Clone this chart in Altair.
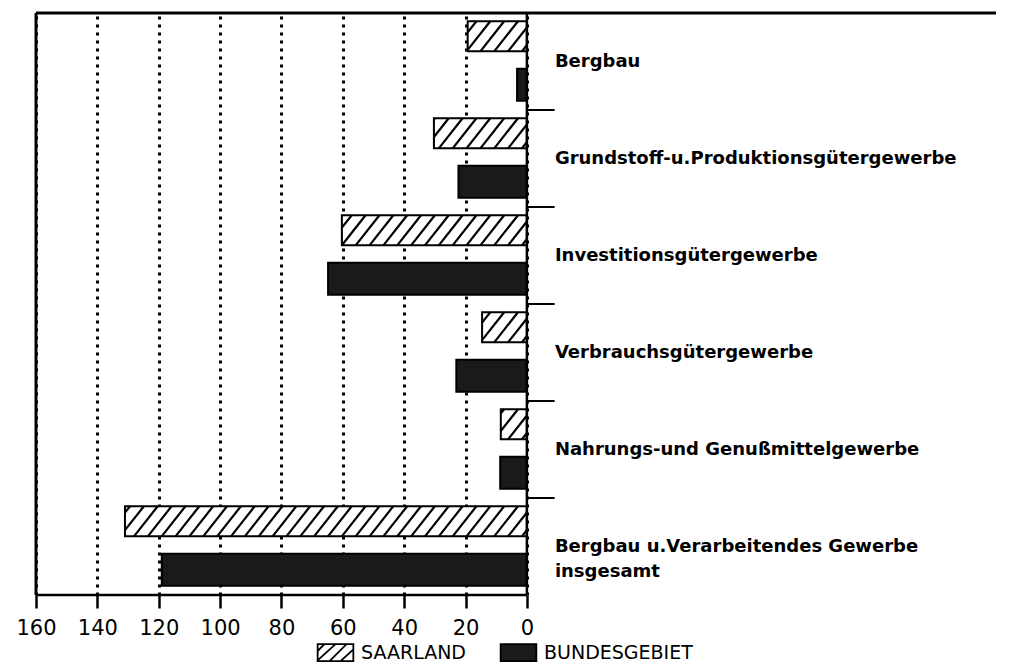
import altair as alt
import pandas as pd

categories = [
    "Bergbau",
    "Grundstoff-u.Produktionsgütergewerbe",
    "Investitionsgütergewerbe",
    "Verbrauchsgütergewerbe",
    "Nahrungs-und Genußmittelgewerbe",
    "Bergbau u.Verarbeitendes Gewerbe\ninsgesamt",
]
saarland = [19.3, 30.3, 60.3, 14.6, 8.5, 131.0]
bundesgebiet = [3.2, 22.3, 64.8, 23.0, 8.7, 119.0]
series = ["SAARLAND", "BUNDESGEBIET"]
tick_values = [0, 20, 40, 60, 80, 100, 120, 140, 160]

# ---- layout constants ----
W, H = 970, 582
K = 3.1                       # px per unit on x
XMAX = 160
XMIN = -(W / K - XMAX)        # domain extends to the right of zero (labels area)
NCAT = len(categories)
PY = H / NCAT                 # px per category band
SAAR_Y = (0.085, 0.395)
BUND_Y = (0.575, 0.905)
FONT = "DejaVu Sans"

xs = alt.Scale(domain=[XMAX, XMIN], nice=False, zero=False)
ys = alt.Scale(domain=[0, NCAT], reverse=True, nice=False, zero=False)

rows = []
for i, c in enumerate(categories):
    rows.append(dict(cat=c, idx=i, series=series[0], value=saarland[i],
                     y0=i + SAAR_Y[0], y1=i + SAAR_Y[1]))
    rows.append(dict(cat=c, idx=i, series=series[1], value=bundesgebiet[i],
                     y0=i + BUND_Y[0], y1=i + BUND_Y[1]))
bars_df = pd.DataFrame(rows)

# hatch lines for the Saarland bars (derived from the values)
SPACING, RUN = 14.0, 24.0
hatch = []
for i, v in enumerate(saarland):
    xl, xr = -v * K, 0.0
    pt, pb = (i + SAAR_Y[0]) * PY, (i + SAAR_Y[1]) * PY
    h = pb - pt
    c = xr - 5
    cs = []
    while c > xl - RUN:
        cs.append(c)
        c -= SPACING
    for c in cs:
        t0 = max(0.0, (xl - c) / RUN)
        t1 = min(1.0, (xr - c) / RUN)
        if t1 - t0 < 0.02:
            continue
        xa, ya = c + RUN * t0, pb - h * t0
        xb, yb = c + RUN * t1, pb - h * t1
        hatch.append(dict(x=-xa / K, y=ya / PY, x2=-xb / K, y2=yb / PY))
hatch_df = pd.DataFrame(hatch)

lab_df = pd.DataFrame({"cat": categories, "ym": [i + 0.5 for i in range(NCAT)]})
bound_df = pd.DataFrame({"yb": list(range(1, NCAT))})

xaxis = alt.Axis(values=tick_values, grid=True, gridColor="black", gridDash=[3, 5],
                 gridWidth=3, gridOpacity=1, domain=False, ticks=True, tickSize=13,
                 tickWidth=2.5, tickColor="black", labelFont=FONT, labelFontSize=21,
                 labelFontWeight="normal", labelColor="black", labelPadding=9,
                 title=None, labelFlush=False)

hatch_path = ("M-2.1,-1H2.1V1H-2.1Z "
              "M-2.1,-0.2L-1.3,-1 M-2.1,0.9L0,-1 M-0.7,1L1.3,-1 M0.6,1L2.1,-0.4")
solid_path = "M-2.1,-1H2.1V1H-2.1Z"
leg = alt.Legend(title=None, orient="none", legendX=295, legendY=630,
                 direction="horizontal", symbolSize=289, labelOffset=16,
                 labelFont=FONT, labelFontSize=19, labelFontWeight="normal",
                 labelColor="black", columnPadding=30, labelLimit=0,
                 symbolOpacity=1, symbolStrokeColor="black", symbolStrokeWidth=1.8)
fill_scale = alt.Scale(domain=series, range=["white", "#1a1a1a"])
stroke_scale = alt.Scale(domain=series, range=["black", "black"])
shape_scale = alt.Scale(domain=series, range=[hatch_path, solid_path])

base = alt.Chart(bars_df)

grid = base.mark_bar(opacity=0).encode(
    x=alt.X("value:Q", scale=xs, axis=xaxis),
    y=alt.Y("y0:Q", scale=ys, axis=None),
)

bars = base.mark_bar(strokeWidth=2, opacity=1).encode(
    x=alt.X("value:Q", scale=xs),
    x2=alt.datum(0),
    y=alt.Y("y0:Q", scale=ys),
    y2="y1:Q",
    fill=alt.Fill("series:N", scale=fill_scale, legend=leg),
    stroke=alt.Stroke("series:N", scale=stroke_scale, legend=leg),
)

hatch_l = alt.Chart(hatch_df).mark_rule(color="black", strokeWidth=2.2).encode(
    x=alt.X("x:Q", scale=xs), y=alt.Y("y:Q", scale=ys), x2="x2:Q", y2="y2:Q"
)

frame_top = alt.Chart().mark_rule(color="black", strokeWidth=3).encode(
    x=alt.datum(XMAX, scale=xs), x2=alt.datum(XMIN), y=alt.datum(0, scale=ys))
frame_left = alt.Chart().mark_rule(color="black", strokeWidth=3).encode(
    x=alt.datum(XMAX, scale=xs), y=alt.datum(0, scale=ys), y2=alt.datum(NCAT))
frame_zero = alt.Chart().mark_rule(color="black", strokeWidth=2.5).encode(
    x=alt.datum(0, scale=xs), y=alt.datum(0, scale=ys), y2=alt.datum(NCAT))
frame_bottom = alt.Chart().mark_rule(color="black", strokeWidth=2.5).encode(
    x=alt.datum(XMAX, scale=xs), x2=alt.datum(0), y=alt.datum(NCAT, scale=ys))

cat_ticks = alt.Chart(bound_df).mark_rule(color="black", strokeWidth=2).encode(
    x=alt.datum(0, scale=xs), x2=alt.datum(-28 / K), y=alt.Y("yb:Q", scale=ys))

labels = alt.Chart(lab_df).mark_text(
    align="left", baseline="middle", dx=28, font=FONT, fontSize=18,
    fontWeight="bold", color="black", lineBreak="\n", lineHeight=25
).encode(x=alt.datum(0, scale=xs), y=alt.Y("ym:Q", scale=ys), text="cat:N")

legend_layer = alt.Chart(bars_df).transform_filter("false").mark_point(
    filled=True, strokeWidth=1.8, opacity=1
).encode(
    x=alt.X("value:Q", scale=xs),
    y=alt.Y("y0:Q", scale=ys),
    fill=alt.Fill("series:N", scale=fill_scale, legend=leg),
    stroke=alt.Stroke("series:N", scale=stroke_scale, legend=leg),
    shape=alt.Shape("series:N", scale=shape_scale, legend=leg),
)

chart = alt.layer(
    grid, bars, hatch_l, frame_top, frame_left, frame_zero, frame_bottom,
    cat_ticks, labels, legend_layer
).properties(
    width=W, height=H,
    autosize=alt.AutoSizeParams(type="none"),
    padding={"left": 23, "top": 5, "right": 3, "bottom": 69},
).configure_view(stroke=None)

chart.save("out.html", embed_options={"renderer": "svg", "actions": False})
